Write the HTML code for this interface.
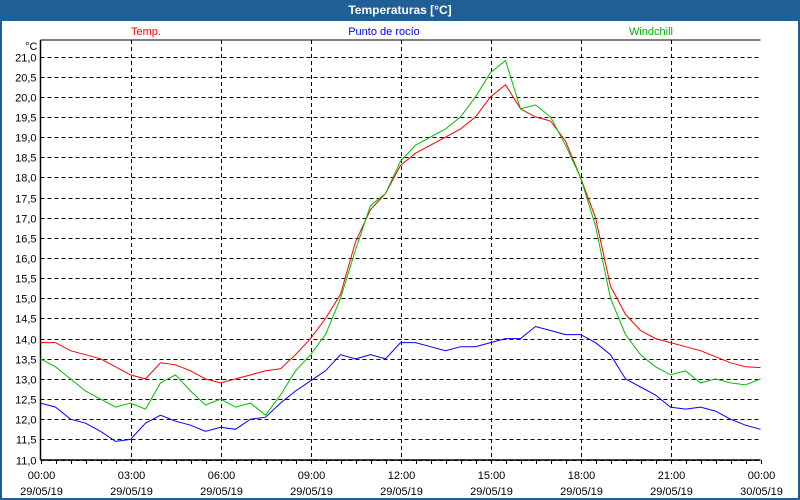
<!DOCTYPE html>
<html><head><meta charset="utf-8"><style>
body{margin:0;width:800px;height:500px;overflow:hidden;background:#1f5f96;font-family:"Liberation Sans",sans-serif}
#win{position:absolute;left:0;top:0;width:800px;height:500px}
#title{position:absolute;left:0;top:0;width:800px;height:21px;line-height:21px;text-align:center;color:#fff;font-weight:bold;font-size:12px;background:#1f5f96}
#body{position:absolute;left:2px;top:21px;width:796px;height:477px;background:#fff}
</style></head><body>
<div id="win">
<div id="title">Temperaturas [°C]</div>
<div id="body"></div>
<svg id="chart" width="800" height="500" style="position:absolute;left:0;top:0"></svg>
</div>
<script>
const hours=[0,0.5,1,1.5,2,2.5,3,3.5,4,4.5,5,5.5,6,6.5,7,7.5,8,8.5,9,9.5,10,10.5,11,11.5,12,12.5,13,13.5,14,14.5,15,15.5,16,16.5,17,17.5,18,18.5,19,19.5,20,20.5,21,21.5,22,22.5,23,23.5,24];
const tempValues=[13.9,13.9,13.7,13.6,13.5,13.3,13.1,13.0,13.4,13.35,13.2,13.0,12.9,13.0,13.1,13.2,13.25,13.6,14.0,14.5,15.1,16.4,17.2,17.6,18.3,18.6,18.8,19.0,19.2,19.5,20.0,20.3,19.7,19.5,19.4,18.9,18.0,17.0,15.3,14.6,14.2,14.0,13.9,13.8,13.7,13.55,13.4,13.3,13.28];
const dewValues=[12.4,12.3,12.0,11.9,11.7,11.45,11.5,11.9,12.1,11.95,11.85,11.7,11.8,11.75,12.0,12.05,12.4,12.7,12.95,13.2,13.6,13.5,13.6,13.5,13.9,13.9,13.8,13.7,13.8,13.8,13.9,14.0,14.0,14.3,14.2,14.1,14.1,13.9,13.6,13.0,12.8,12.6,12.3,12.25,12.3,12.2,12.0,11.85,11.75];
const windValues=[13.5,13.3,13.0,12.7,12.5,12.3,12.4,12.25,12.9,13.1,12.7,12.35,12.5,12.3,12.4,12.1,12.6,13.2,13.6,14.1,15.0,16.2,17.3,17.6,18.4,18.8,19.0,19.2,19.5,20.0,20.6,20.9,19.7,19.8,19.5,18.8,18.0,16.8,15.0,14.1,13.6,13.3,13.1,13.2,12.9,13.0,12.9,12.85,13.0];
const yTicks=["11,0","11,5","12,0","12,5","13,0","13,5","14,0","14,5","15,0","15,5","16,0","16,5","17,0","17,5","18,0","18,5","19,0","19,5","20,0","20,5","21,0"];
const xTimes=["00:00","03:00","06:00","09:00","12:00","15:00","18:00","21:00","00:00"];
const xDates=["29/05/19","29/05/19","29/05/19","29/05/19","29/05/19","29/05/19","29/05/19","29/05/19","30/05/19"];
const L=40.5,R=760.5,T=40,B=460,yMin=11,yMax=21,yTop=56.5;
const xs=h=>L+(h/24)*(R-L);
const ys=v=>B-0.5-(v-yMin)/(yMax-yMin)*(B-0.5-yTop);
const svg=document.getElementById('chart');const NS='http://www.w3.org/2000/svg';
function mk(t,a){const e=document.createElementNS(NS,t);for(const k in a)e.setAttribute(k,a[k]);svg.appendChild(e);return e;}
function txt(x,y,s,anchor,fill){const e=mk('text',{x:x,y:y,'font-size':11,'text-anchor':anchor,fill:fill||'#000','font-family':'Liberation Sans, sans-serif'});e.textContent=s;return e;}
let e;
e=mk('line',{x1:L,y1:T,x2:R,y2:T,stroke:'#000'});


yTicks.forEach((t,i)=>{const v=yMin+i*0.5;const y=Math.round(ys(v))+0.5;
 e=mk('line',{x1:L,y1:y,x2:R,y2:y,stroke:'#000','stroke-dasharray':'4,3'});
 
 
 e=txt(L-4,y+4,t,'end');
 
 });
e=txt(L-3,50,'°C','end');


for(let h=0;h<=24;h+=0.5){const x=Math.round(xs(h))+0.5;
 e=mk('line',{x1:x,y1:B,x2:x,y2:B+4,stroke:'#000'});
 
 }
xTimes.forEach((t,i)=>{const x=Math.round(xs(i*3))+0.5;
 if(i>0&&i<8){e=mk('line',{x1:x,y1:T,x2:x,y2:B,stroke:'#000','stroke-dasharray':'4,3'});
 
 }
 e=txt(x,479,t,'middle');
 
 
 e=txt(x,495,xDates[i],'middle');
 
 });
e=mk('line',{x1:L,y1:T,x2:L,y2:B,stroke:'#000','stroke-width':1.5});


e=mk('line',{x1:L,y1:B,x2:R,y2:B,stroke:'#000','stroke-width':1.5});


function series(vals,color,name){const p=vals.map((v,i)=>xs(hours[i]).toFixed(1)+','+ys(v).toFixed(1)).join(' ');
 const el=mk('polyline',{points:p,fill:'none',stroke:color,'stroke-width':1});
 
 }
series(dewValues,'#0000ff','dew-point-line');
series(tempValues,'#ff0000','temperature-line');
series(windValues,'#00c000','windchill-line');
e=txt(146,35,'Temp.','middle','#ff0000');


e=txt(384,35,'Punto de rocío','middle','#0000ff');


e=txt(651,35,'Windchill','middle','#00b000');


</script>
</body></html>
